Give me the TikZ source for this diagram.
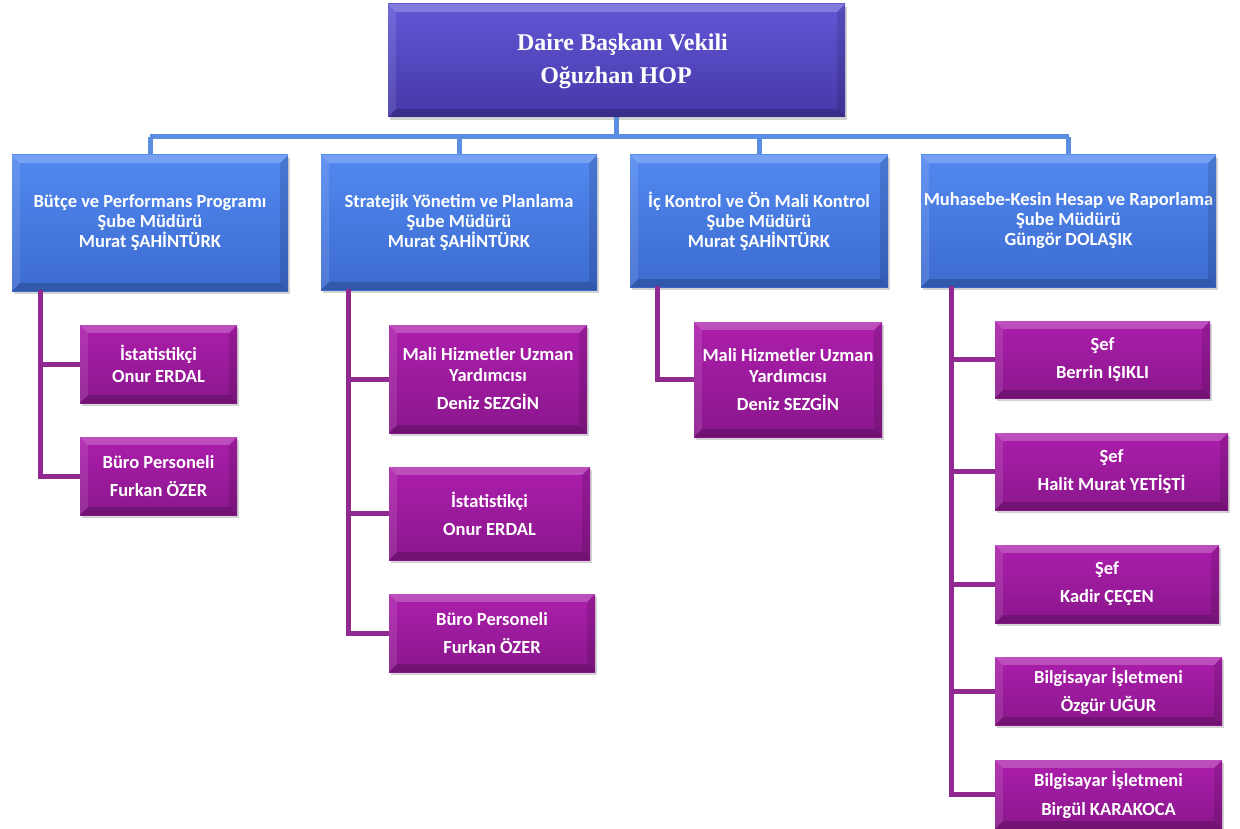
\documentclass[tikz,border=0pt]{standalone}
\usepackage{fontspec}
\newfontfamily\boxfont{Carlito}
\newfontfamily\topfont{Liberation Serif}
\usetikzlibrary{shadows}
\definecolor{topA}{HTML}{6257D6}
\definecolor{topB}{HTML}{4538A8}
\definecolor{depA}{HTML}{5289F0}
\definecolor{depB}{HTML}{3C6BCF}
\definecolor{purA}{HTML}{AC1EAC}
\definecolor{purB}{HTML}{8A178C}
\definecolor{blueline}{HTML}{5B8EE0}
\definecolor{purline}{HTML}{902A90}
\tikzset{
  basebox/.style={inner sep=0pt, align=center, text=white,
    drop shadow={shadow xshift=2pt, shadow yshift=-3pt, opacity=0.35}},
  topbox/.style={basebox, top color=topA, bottom color=topB},
  toptext/.style={inner sep=0pt, text=white, font=\topfont\bfseries\fontsize{24}{33}\selectfont},
  depbox/.style={basebox, top color=depA, bottom color=depB,
    font=\boxfont\bfseries\fontsize{18.5}{20}\selectfont},
  purbox/.style={basebox, top color=purA, bottom color=purB,
    font=\boxfont\bfseries\fontsize{18.5}{22}\selectfont},
  bline/.style={draw=blueline, line width=5pt},
  pline/.style={draw=purline, line width=5pt},
}
\newcommand{\bevel}[1]{%
  \fill[white,opacity=0.22] (#1.north west) -- (#1.north east) -- ([shift={(-8pt,-8pt)}]#1.north east) -- ([shift={(8pt,-8pt)}]#1.north west) -- cycle;
  \fill[white,opacity=0.10] (#1.north west) -- ([shift={(8pt,-8pt)}]#1.north west) -- ([shift={(8pt,8pt)}]#1.south west) -- (#1.south west) -- cycle;
  \fill[black,opacity=0.18] (#1.south west) -- (#1.south east) -- ([shift={(-8pt,8pt)}]#1.south east) -- ([shift={(8pt,8pt)}]#1.south west) -- cycle;
  \fill[black,opacity=0.12] (#1.north east) -- ([shift={(-8pt,-8pt)}]#1.north east) -- ([shift={(-8pt,8pt)}]#1.south east) -- (#1.south east) -- cycle;
}
\begin{document}
\begin{tikzpicture}[x=1pt,y=-1pt]
\useasboundingbox (0,0) rectangle (1240,829);
\coordinate (bar) at (0,137);
\coordinate (v1) at (40,290);
\coordinate (v2) at (348,289);
\coordinate (v3) at (657,286);
\coordinate (v4) at (951,286);

% top
\node[topbox, minimum width=457pt, minimum height=113pt] (top) at (616.5,60.5) {};
% departments
\node[depbox, minimum width=276pt, minimum height=136pt] (d1) at (150,223) {Bütçe ve Performans Programı\\Şube Müdürü\\Murat ŞAHİNTÜRK};
\node[depbox, minimum width=276pt, minimum height=135pt] (d2) at (459,222.5) {Stratejik Yönetim ve Planlama\\Şube Müdürü\\Murat ŞAHİNTÜRK};
\node[depbox, minimum width=258pt, minimum height=132pt] (d3) at (759,221) {İç Kontrol ve Ön Mali Kontrol\\Şube Müdürü\\Murat ŞAHİNTÜRK};
\node[depbox, minimum width=295pt, minimum height=132pt] (d4) at (1068.5,221) {Muhasebe-Kesin Hesap ve Raporlama\\Şube Müdürü\\Güngör DOLAŞIK};

% blue connectors
\draw[bline] (top.south) -- (top.south |- bar);
\draw[bline] (d1.north |- bar) -- (d4.north |- bar);
\foreach \d in {d1,d2,d3,d4} { \draw[bline] (\d.north |- bar) -- (\d.north); }

% purple children
\node[purbox, minimum width=157pt, minimum height=78pt] (p11) at (158.5,364) {İstatistikçi\\Onur ERDAL};
\node[purbox, minimum width=157pt, minimum height=78pt] (p12) at (158.5,476) {Büro Personeli\\[6pt]Furkan ÖZER};
\node[purbox, minimum width=198pt, minimum height=108pt] (p21) at (488,379) {Mali Hizmetler Uzman\\[-1pt]Yardımcısı\\[6pt]Deniz SEZGİN};
\node[purbox, minimum width=201pt, minimum height=93pt] (p22) at (489.5,513.5) {İstatistikçi\\[6pt]Onur ERDAL};
\node[purbox, minimum width=206pt, minimum height=78pt] (p23) at (492,633) {Büro Personeli\\[6pt]Furkan ÖZER};
\node[purbox, minimum width=188pt, minimum height=115pt] (p31) at (788,379.5) {Mali Hizmetler Uzman\\[-1pt]Yardımcısı\\[6pt]Deniz SEZGİN};
\node[purbox, minimum width=215pt, minimum height=77pt] (p41) at (1102.5,359.5) {Şef\\[6pt]Berrin IŞIKLI};
\node[purbox, minimum width=233pt, minimum height=77pt] (p42) at (1111.5,471.5) {Şef\\[6pt]Halit Murat YETİŞTİ};
\node[purbox, minimum width=224pt, minimum height=78pt] (p43) at (1107,584) {Şef\\[6pt]Kadir ÇEÇEN};
\node[purbox, minimum width=227pt, minimum height=68pt] (p44) at (1108.5,691) {Bilgisayar İşletmeni\\[6pt]Özgür UĞUR};
\node[purbox, minimum width=227pt, minimum height=69pt] (p45) at (1108.5,794.5) {Bilgisayar İşletmeni\\[7pt]Birgül KARAKOCA};

\foreach \b in {top,d1,d2,d3,d4,p11,p12,p21,p22,p23,p31,p41,p42,p43,p44,p45} { \bevel{\b} }

% top box text
\node[toptext] (topl1) at (622.5,45) {Daire Başkanı Vekili};
\node[toptext] (topl2) at (616,78) {Oğuzhan HOP};

% purple connectors
\draw[pline] (v1) |- (p12.west);
\draw[pline] (v1 |- p11.west) -- (p11.west);
\draw[pline] (v2) |- (p23.west);
\draw[pline] (v2 |- p21.west) -- (p21.west);
\draw[pline] (v2 |- p22.west) -- (p22.west);
\draw[pline] (v3) |- (p31.west);
\draw[pline] (v4) |- (p45.west);
\foreach \p in {p41,p42,p43,p44} { \draw[pline] (v4 |- \p.west) -- (\p.west); }
\end{tikzpicture}
\end{document}
